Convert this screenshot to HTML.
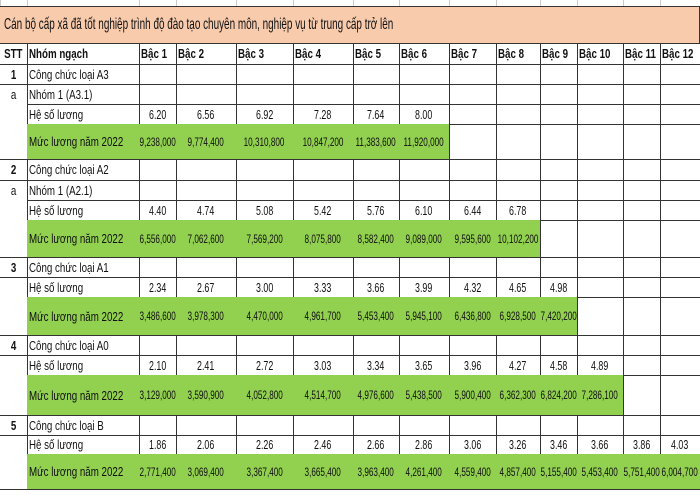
<!DOCTYPE html>
<html><head><meta charset="utf-8">
<style>
body{margin:0;background:#fff;}
#t{position:relative;width:700px;height:495px;overflow:hidden;background:#fff;font-family:"Liberation Sans",sans-serif;color:#111;}
.c{position:absolute;box-sizing:border-box;border-right:1.5px solid #333;border-bottom:1.5px solid #333;display:flex;align-items:center;overflow:hidden;white-space:nowrap;}
.c span{display:inline-block;transform:scaleX(0.75);}
.l{padding-left:2px}.l span{transform-origin:left center}
.m{justify-content:center}
.n span{transform:scaleX(0.68);}
.g{background:#92d050}
.b{font-weight:bold}
</style></head><body>
<div id="t"></div>
<script>
const colX=[0,27,139,176,236,293,353,399,449,496,540,577,623,660,700];
const headers=["STT","Nhóm ngạch","Bậc 1","Bậc 2","Bậc 3","Bậc 4","Bậc 5","Bậc 6","Bậc 7","Bậc 8","Bậc 9","Bậc 10","Bậc 11","Bậc 12"];
const sections=[
 {stt:"1",name:"Công chức loại A3",sub:"a",subName:"Nhóm 1 (A3.1)",y:[64,84,104,124,159],
  hs:["6.20","6.56","6.92","7.28","7.64","8.00"],
  ml:["9,238,000","9,774,400","10,310,800","10,847,200","11,383,600","11,920,000"]},
 {stt:"2",name:"Công chức loại A2",sub:"a",subName:"Nhóm 1 (A2.1)",y:[159,180,200,220,257],
  hs:["4.40","4.74","5.08","5.42","5.76","6.10","6.44","6.78"],
  ml:["6,556,000","7,062,600","7,569,200","8,075,800","8,582,400","9,089,000","9,595,600","10,102,200"]},
 {stt:"3",name:"Công chức loại A1",y:[257,277,297,335],
  hs:["2.34","2.67","3.00","3.33","3.66","3.99","4.32","4.65","4.98"],
  ml:["3,486,600","3,978,300","4,470,000","4,961,700","5,453,400","5,945,100","6,436,800","6,928,500","7,420,200"]},
 {stt:"4",name:"Công chức loại A0",y:[335,355,375,415],
  hs:["2.10","2.41","2.72","3.03","3.34","3.65","3.96","4.27","4.58","4.89"],
  ml:["3,129,000","3,590,900","4,052,800","4,514,700","4,976,600","5,438,500","5,900,400","6,362,300","6,824,200","7,286,100"]},
 {stt:"5",name:"Công chức loại B",y:[415,435,454,489],
  hs:["1.86","2.06","2.26","2.46","2.66","2.86","3.06","3.26","3.46","3.66","3.86","4.03"],
  ml:["2,771,400","3,069,400","3,367,400","3,665,400","3,963,400","4,261,400","4,559,400","4,857,400","5,155,400","5,453,400","5,751,400","6,004,700"]}
];
const T=document.getElementById('t');
function cell(x0,y0,x1,y1,txt,cls,name){
 const d=document.createElement('div');
 d.className='c '+(cls||'');
 d.style.left=x0+'px';d.style.top=y0+'px';d.style.width=(x1-x0+1)+'px';d.style.height=(y1-y0+1)+'px';
 
 
 if(txt){const s=document.createElement('span');s.textContent=txt;d.appendChild(s);}
 T.appendChild(d);return d;
}
for(let i=0;i<colX.length;i++){const g=document.createElement('div');g.style.cssText='position:absolute;top:0;height:7px;width:1px;background:#ccc;left:'+colX[i]+'px';


T.appendChild(g);}
const tb=cell(0,6,699,43,"Cán bộ cấp xã đã tốt nghiệp trình độ đào tạo chuyên môn, nghiệp vụ từ trung cấp trở lên","l",'title-band');
tb.style.background='#f8cbad';tb.style.borderTop='1.5px solid #333';tb.style.fontSize='16px';tb.style.paddingLeft='4px';
tb.firstChild.style.transform='scaleX(0.62)';
headers.forEach((h,i)=>{cell(colX[i],43,colX[i+1],64,h,'b '+(i==0?'m':'l'),'header-'+i).style.fontSize='13px';});
sections.forEach((s,si)=>{
 const y=s.y;let r=0;
 cell(colX[0],y[0],colX[1],y[1],s.stt,'m b','stt-'+s.stt).style.fontSize='13px';
 cell(colX[1],y[0],colX[2],y[1],s.name,'l','group-name-'+s.stt).style.fontSize='13px';
 for(let c=2;c<14;c++)cell(colX[c],y[0],colX[c+1],y[1],'','','empty');
 r=1;
 let stt2=cell(colX[0],y[1],colX[1],y[y.length-1],s.sub||'','m','stt-sub');stt2.style.alignItems='flex-start';stt2.style.paddingTop='3px';stt2.style.fontSize='13px';
 if(s.sub){cell(colX[1],y[1],colX[2],y[2],s.subName,'l','subgroup-name').style.fontSize='13px';
  for(let c=2;c<14;c++)cell(colX[c],y[1],colX[c+1],y[2],'','','empty');r=2;}
 cell(colX[1],y[r],colX[2],y[r+1],'Hệ số lương','l','coef-label').style.fontSize='13px';
 for(let c=0;c<12;c++)cell(colX[c+2],y[r],colX[c+3],y[r+1],s.hs[c]||'','m n','coef-'+s.stt+'-'+(c+1)).style.fontSize='13px';
 cell(colX[1],y[r+1],colX[2],y[r+2],'Mức lương năm 2022','l g','salary-label').style.fontSize='13px';
 for(let c=0;c<12;c++)cell(colX[c+2],y[r+1],colX[c+3],y[r+2],s.ml[c]||'','m n'+(s.ml[c]?' g':''),'salary-'+s.stt+'-'+(c+1)).style.fontSize='12px';
});
</script>
</body></html>
